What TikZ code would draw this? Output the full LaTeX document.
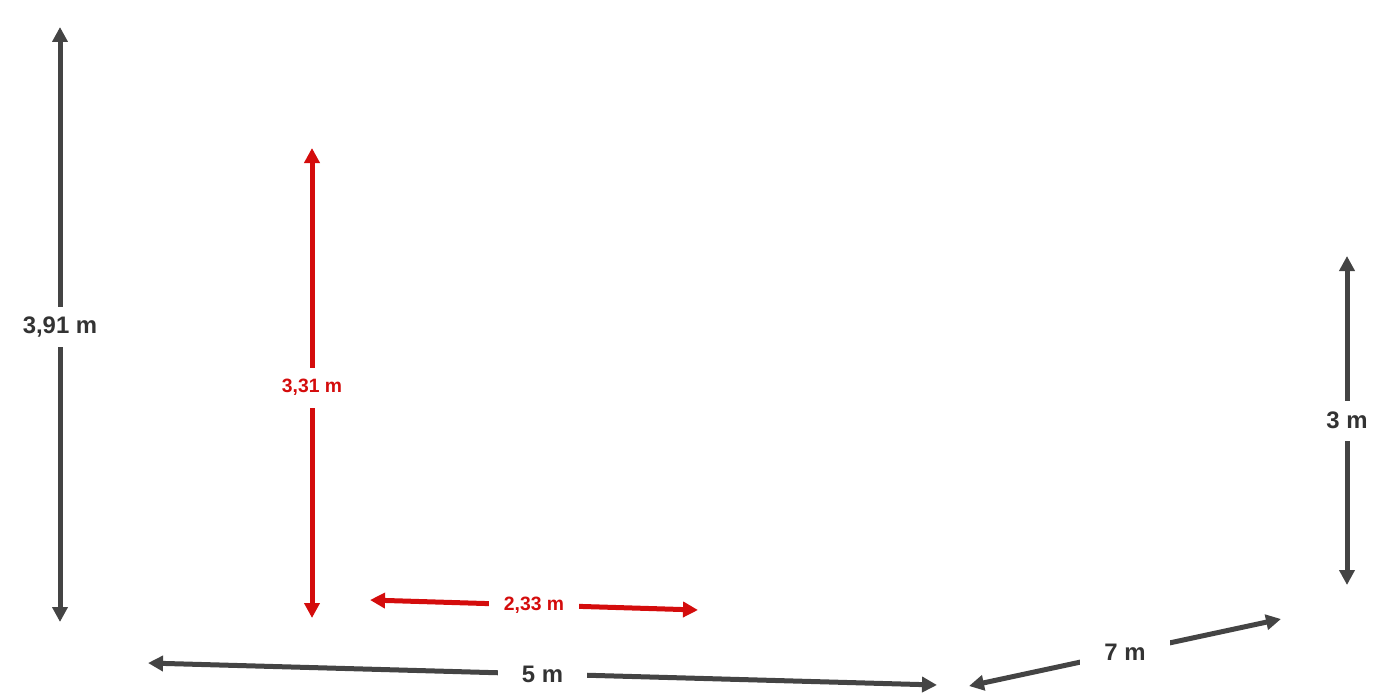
\documentclass[tikz,border=0pt]{standalone}
\usepackage{fontspec}
\setmainfont{Liberation Sans}
\usetikzlibrary{arrows.meta}
\definecolor{dimgray}{HTML}{444444}
\definecolor{dimtext}{HTML}{333333}
\definecolor{dimred}{HTML}{D40C0C}
\begin{document}
\begin{tikzpicture}[x=0.02cm,y=-0.02cm,
  dimline/.style={line width=0.1cm,{Triangle[length=0.3cm,width=0.3cm]}-{Triangle[length=0.3cm,width=0.3cm]}},
  grayline/.style={dimline,draw=dimgray,fill=dimgray},
  redline/.style={dimline,draw=dimred,fill=dimred},
  dimlabel/.style={fill=white,inner sep=0pt,minimum width=1.8cm,minimum height=0.8cm,font=\bfseries},
  graylabel/.style={dimlabel,text=dimtext,font=\bfseries\fontsize{13.6}{16}\selectfont},
  redlabel/.style={dimlabel,text=dimred,font=\bfseries\fontsize{11}{13}\selectfont}]
\useasboundingbox (0,0) rectangle (1400,700);
% endpoints
\coordinate (h1a) at (60,27);
\coordinate (h1b) at (60,622);
\coordinate (r1a) at (312,148);
\coordinate (r1b) at (312,618);
\coordinate (r2a) at (370,600);
\coordinate (r2b) at (698,610);
\coordinate (b1a) at (148,663);
\coordinate (b1b) at (937,685);
\coordinate (d1a) at (969,686);
\coordinate (d1b) at (1281,619);
\coordinate (v2a) at (1347,256);
\coordinate (v2b) at (1347,585);
% dimension lines
\draw[grayline] (h1a) -- (h1b) node[pos=0.505,graylabel] (l1) {3,91 m};
\draw[redline] (r1a) -- (r1b) node[pos=0.51,redlabel] (l2) {3,31 m};
\draw[redline] (r2a) -- (r2b) node[pos=0.5,redlabel] (l3) {2,33 m};
\draw[grayline] (b1a) -- (b1b) node[pos=0.5,graylabel] (l4) {5 m};
\draw[grayline] (d1a) -- (d1b) node[pos=0.5,graylabel] (l5) {7 m};
\draw[grayline] (v2a) -- (v2b) node[pos=0.5,graylabel] (l6) {3 m};
\end{tikzpicture}
\end{document}
